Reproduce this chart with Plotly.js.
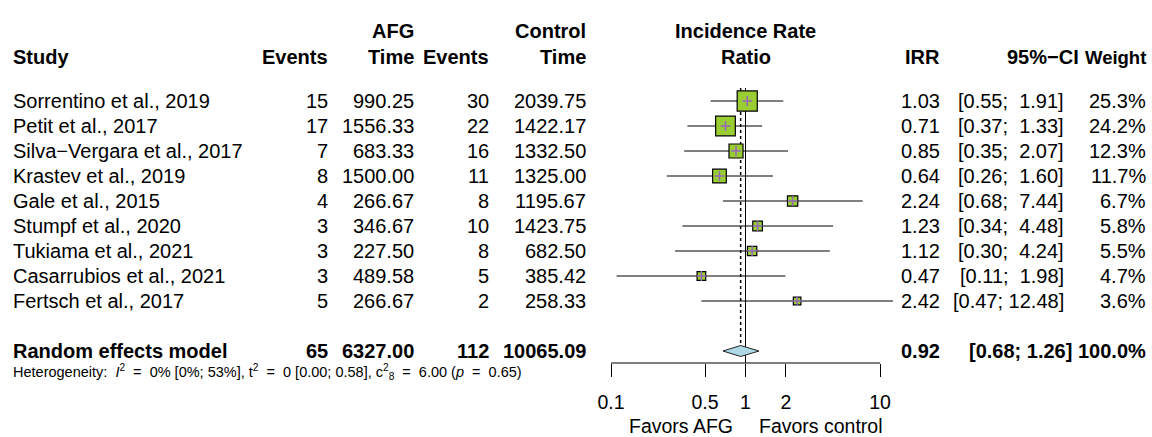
<!DOCTYPE html>
<html>
<head>
<meta charset="utf-8">
<script src="https://cdn.plot.ly/plotly-3.0.1.min.js"></script>
<style>
  html, body { margin: 0; padding: 0; background: #fff; }
  #chart { width: 1152px; height: 437px; }
</style>
</head>
<body>
<div id="chart"></div>
<script>
// ---- Study-level data ----
const studies = [
  'Sorrentino et al., 2019',
  'Petit et al., 2017',
  'Silva\u2212Vergara et al., 2017',
  'Krastev et al., 2019',
  'Gale et al., 2015',
  'Stumpf et al., 2020',
  'Tukiama et al., 2021',
  'Casarrubios et al., 2021',
  'Fertsch et al., 2017'
];
const eventsAFG   = [15, 17, 7, 8, 4, 3, 3, 3, 5];
const timeAFG     = [990.25, 1556.33, 683.33, 1500.00, 266.67, 346.67, 227.50, 489.58, 266.67];
const eventsCtrl  = [30, 22, 16, 11, 8, 10, 8, 5, 2];
const timeCtrl    = [2039.75, 1422.17, 1332.50, 1325.00, 1195.67, 1423.75, 682.50, 385.42, 258.33];
const irr         = [1.03, 0.71, 0.85, 0.64, 2.24, 1.23, 1.12, 0.47, 2.42];
const ciLower     = [0.55, 0.37, 0.35, 0.26, 0.68, 0.34, 0.30, 0.11, 0.47];
const ciUpper     = [1.91, 1.33, 2.07, 1.60, 7.44, 4.48, 4.24, 1.98, 12.48];
const weights     = [25.3, 24.2, 12.3, 11.7, 6.7, 5.8, 5.5, 4.7, 3.6];

// ---- Pooled (random effects) result ----
const pooledLabel = 'Random effects model';
const pooledEvents = [65, 112];          // AFG, control
const pooledTime   = [6327.00, 10065.09]; // AFG, control
const pooledIRR    = [0.92];
const pooledCI     = [0.68, 1.26];
const pooledWeight = [100.0];

// ---- Heterogeneity statistics ----
const hetI2   = [0, 0, 53];        // I^2 and its interval (%)
const hetTau2 = [0, 0.00, 0.58];   // tau^2 and its interval
const hetQ    = [6.00, 8, 0.65];   // Q, df, p

// ---- Axis ----
const tickVals  = [0.1, 0.5, 1, 2, 10];
const tickText  = ['0.1', '0.5', '1', '2', '10'];
const nullValue = 1;
const favorsLabels = ['Favors AFG', 'Favors control'];

// ---- Geometry helpers (pixel layout of the figure) ----
const W = 1152, H = 437;
const ROW0_PX = 101, ROW_STEP = 25;           // first study row and row spacing
const rowOfPx = px => 1 + (px - ROW0_PX) / ROW_STEP;
const xp = px => px / W;
const yp = px => (H - px) / H;
const AXIS_PX = 363;
const rows = studies.map((_, i) => i + 1);
const pooledRow = studies.length + 2;

const FONT = 'Liberation Sans, Arial, Helvetica, sans-serif';
const FS = 20;
const NBSP = '\u00A0';

function fmtCI(lo, hi, width) {
  const h = hi.toFixed(2);
  return '[' + lo.toFixed(2) + ';' + NBSP.repeat(1 + width - h.length) + h + ']';
}
const ciWidth = Math.max(...ciUpper.map(v => v.toFixed(2).length));

const annotations = [];
function txt(text, xpx, y, anchor, opts = {}) {
  annotations.push(Object.assign({
    text: text, x: xp(xpx), xref: 'paper', y: y, yref: 'y',
    xanchor: anchor, yanchor: 'middle', showarrow: false,
    font: { family: FONT, size: FS, color: '#000' }
  }, opts));
}

// Column right edges (px)
const COL = { study: 11, evA: 330, timeA: 416, evC: 491, timeC: 588, irr: 942, ci: 1066, w: 1148 };

// Header
const h1 = rowOfPx(30.5), h2 = rowOfPx(57);
const bold = s => '<b>' + s + '</b>';
txt(bold('Study'), COL.study, h2, 'left');
txt(bold('Events'), COL.evA, h2, 'right');
txt(bold('AFG'), COL.timeA, h1, 'right');
txt(bold('Time'), COL.timeA, h2, 'right');
txt(bold('Events'), COL.evC, h2, 'right');
txt(bold('Control'), COL.timeC, h1, 'right');
txt(bold('Time'), COL.timeC, h2, 'right');
txt(bold('Incidence Rate'), 745.5, h1, 'center');
txt(bold('Ratio'), 745.5, h2, 'center');
txt(bold('IRR'), COL.irr, h2, 'right');
txt(bold('95%\u2212CI'), 1081, h2, 'right');
txt(bold('Weight'), COL.w, h2, 'right', { font: { family: FONT, size: 18.5, color: '#000' } });

// Study rows
studies.forEach((s, i) => {
  const y = rows[i];
  txt(s, COL.study, y, 'left');
  txt(String(eventsAFG[i]), COL.evA, y, 'right');
  txt(timeAFG[i].toFixed(2), COL.timeA, y, 'right');
  txt(String(eventsCtrl[i]), COL.evC, y, 'right');
  txt(timeCtrl[i].toFixed(2), COL.timeC, y, 'right');
  txt(irr[i].toFixed(2), COL.irr, y, 'right');
  txt(fmtCI(ciLower[i], ciUpper[i], ciWidth), COL.ci, y, 'right');
  txt(weights[i].toFixed(1) + '%', COL.w, y, 'right');
});

// Pooled row
txt(bold(pooledLabel), COL.study, pooledRow, 'left');
txt(bold(String(pooledEvents[0])), COL.evA, pooledRow, 'right');
txt(bold(pooledTime[0].toFixed(2)), COL.timeA, pooledRow, 'right');
txt(bold(String(pooledEvents[1])), COL.evC, pooledRow, 'right');
txt(bold(pooledTime[1].toFixed(2)), COL.timeC, pooledRow, 'right');
txt(bold(pooledIRR[0].toFixed(2)), COL.irr, pooledRow, 'right');
txt(bold(fmtCI(pooledCI[0], pooledCI[1], pooledCI[1].toFixed(2).length)), 1074, pooledRow, 'right');
txt(bold(pooledWeight[0].toFixed(1) + '%'), COL.w, pooledRow, 'right');

// Heterogeneity line (wide spacing around the equals signs)
const EQ = NBSP + NBSP + '=' + NBSP + NBSP;
const hetText = 'Heterogeneity:' + NBSP + NBSP + '<i>I</i><sup>2</sup>' + EQ + hetI2[0] + '% [' + hetI2[1] + '%; ' + hetI2[2] + '%], ' +
  't<sup>2</sup>' + EQ + hetTau2[0] + ' [' + hetTau2[1].toFixed(2) + '; ' + hetTau2[2].toFixed(2) + '], ' +
  'c<sup>2</sup><sub>' + hetQ[1] + '</sub>' + EQ + hetQ[0].toFixed(2) + ' (<i>p</i>' + EQ + hetQ[2].toFixed(2) + ')';
annotations.push({
  text: hetText, x: xp(COL.study), xref: 'paper', y: yp(372), yref: 'paper',
  xanchor: 'left', yanchor: 'middle', showarrow: false,
  font: { family: FONT, size: 14.5, color: '#000' }
});

// Favors labels beneath the axis
annotations.push({
  text: favorsLabels[0], x: Math.log10(nullValue), xref: 'x', xshift: -11,
  y: yp(426), yref: 'paper', xanchor: 'right', yanchor: 'middle', showarrow: false,
  font: { family: FONT, size: 19.5, color: '#000' }
});
annotations.push({
  text: favorsLabels[1], x: Math.log10(nullValue), xref: 'x', xshift: 11,
  y: yp(426), yref: 'paper', xanchor: 'left', yanchor: 'middle', showarrow: false,
  font: { family: FONT, size: 19.5, color: '#000' }
});

// ---- Traces ----
const topRow = rowOfPx(88);
const axisRow = rowOfPx(AXIS_PX);
const diamondHalf = 0.22;

const nullLine = {
  x: [nullValue, nullValue], y: [topRow, axisRow],
  mode: 'lines', line: { color: '#000', width: 1 }, hoverinfo: 'skip'
};
const pooledLine = {
  x: [pooledIRR[0], pooledIRR[0]], y: [topRow, pooledRow - diamondHalf],
  mode: 'lines', line: { color: '#000', width: 1.5, dash: 'dot' }, hoverinfo: 'skip'
};

const ciX = [], ciY = [];
rows.forEach((r, i) => { ciX.push(ciLower[i], ciUpper[i], null); ciY.push(r, r, null); });
const ciLines = {
  x: ciX, y: ciY, mode: 'lines', line: { color: '#000', width: 1 }, hoverinfo: 'skip'
};

const squares = {
  x: irr, y: rows, mode: 'markers',
  marker: {
    symbol: 'square', size: weights.map(w => 4 * Math.sqrt(w)), opacity: 1,
    color: '#9ACD32', line: { color: '#000', width: 1.2 }
  },
  cliponaxis: false, hoverinfo: 'skip'
};
const centres = {
  x: irr, y: rows, mode: 'markers',
  marker: { symbol: 'cross-thin-open', size: 7, opacity: 1, line: { color: '#000', width: 1.5 } },
  cliponaxis: false, hoverinfo: 'skip'
};

const diamond = {
  x: [pooledCI[0], pooledIRR[0], pooledCI[1], pooledIRR[0], pooledCI[0]],
  y: [pooledRow, pooledRow - diamondHalf, pooledRow, pooledRow + diamondHalf, pooledRow],
  mode: 'lines', fill: 'toself', fillcolor: '#ADD8E6',
  line: { color: '#222', width: 1 }, hoverinfo: 'skip'
};

// ---- Layout ----
const xLeft = 590, xRight = 910, xOne = 745.5, pxPerDecade = 134.5;
const layout = {
  width: W, height: H,
  margin: { l: 0, r: 0, t: 0, b: 0, pad: 0 },
  paper_bgcolor: '#fff', plot_bgcolor: '#fff',
  showlegend: false,
  font: { family: FONT, color: '#000' },
  xaxis: {
    type: 'log',
    domain: [xp(xLeft), xp(xRight)],
    range: [(xLeft - xOne) / pxPerDecade, (xRight - xOne) / pxPerDecade],
    tickvals: tickVals, ticktext: tickText,
    ticks: 'outside', ticklen: 13, tickwidth: 1, tickcolor: '#000',
    ticklabelstandoff: 9,
    tickfont: { family: FONT, size: 19.5, color: '#000' },
    showgrid: false, zeroline: false, showline: false, fixedrange: true
  },
  yaxis: {
    domain: [yp(AXIS_PX), 1],
    range: [axisRow, rowOfPx(0)],
    visible: false, showgrid: false, zeroline: false, fixedrange: true
  },
  shapes: [{
    type: 'line', xref: 'x', yref: 'paper',
    x0: tickVals[0], x1: tickVals[tickVals.length - 1],
    y0: yp(AXIS_PX), y1: yp(AXIS_PX),
    line: { color: '#000', width: 1 }
  }],
  annotations: annotations
};

Plotly.newPlot('chart', [nullLine, pooledLine, ciLines, squares, centres, diamond], layout,
  { staticPlot: true, displayModeBar: false });
</script>
</body>
</html>
